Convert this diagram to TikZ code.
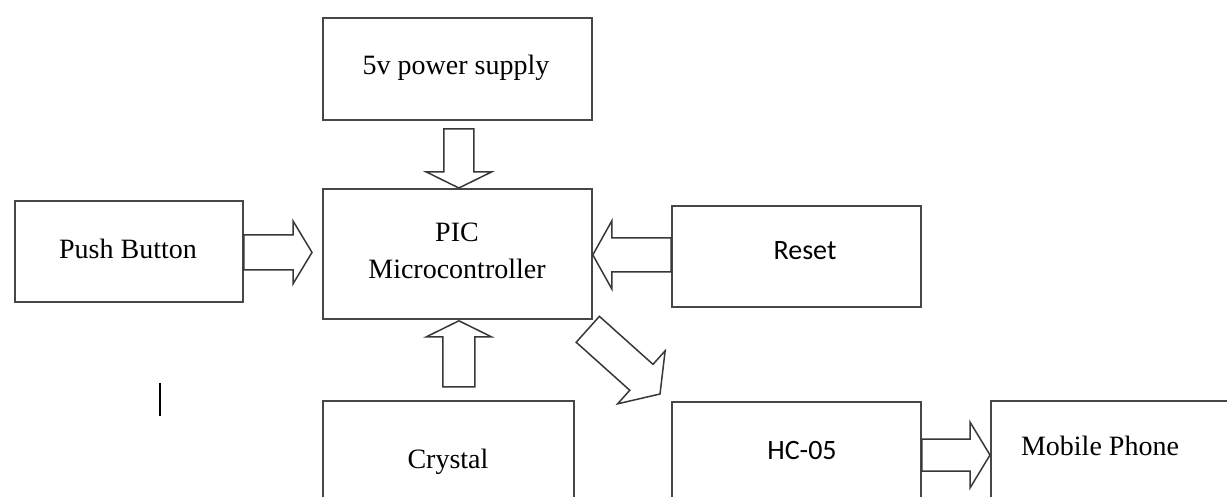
\documentclass[tikz,border=0pt]{standalone}
\usepackage{fontspec}
\setmainfont{Liberation Serif}
\newfontfamily\calibrifont{Carlito}
\usetikzlibrary{calc}
\tikzset{
  box/.style={draw=black!72, line width=0.9pt, rectangle, inner sep=0pt, anchor=north west},
  lbl/.style={inner sep=0pt, align=center, font=\fontsize{14}{18.5}\selectfont},
  sanslbl/.style={inner sep=0pt, align=center, font=\calibrifont\fontsize{14}{18.5}\selectfont},
  blk/.style={draw=black!78, line width=0.75pt, line join=miter, fill=white},
}
% block arrow: from, to, shaft half width, head half width, head length
\newcommand{\blockarrow}[5]{%
  \coordinate (bah) at ($(#2)!#5!(#1)$);
  \draw[blk] ($(#1)!#3!90:(#2)$) -- ($(bah)!#3!90:(#2)$) -- ($(bah)!#4!90:(#2)$)
    -- (#2) -- ($(bah)!#4!-90:(#2)$) -- ($(bah)!#3!-90:(#2)$) -- ($(#1)!#3!-90:(#2)$) -- cycle;
}
\begin{document}
\begin{tikzpicture}[x=0.5pt,y=-0.5pt]
\useasboundingbox (0,0) rectangle (1227,497);
\clip (0,0) rectangle (1227,497);
\fill[white] (0,0) rectangle (1227,497);

% boxes
\node[box, minimum width=134.5pt, minimum height=51pt] (power) at (322,17) {};
\node[box, minimum width=134.5pt, minimum height=65pt] (pic) at (322,188) {};
\node[box, minimum width=114pt, minimum height=50.5pt] (push) at (14,200) {};
\node[box, minimum width=124.5pt, minimum height=50.5pt] (reset) at (671,205) {};
\node[box, minimum width=125.5pt, minimum height=60pt] (crystal) at (322,400) {};
\node[box, minimum width=124.5pt, minimum height=60pt] (hc) at (671,401) {};
\node[box, minimum width=125pt, minimum height=60pt] (mobile) at (990,400) {};

% texts
\node[lbl] (tpower) at (456,68) {5v power supply};
\node[lbl] (tpic) at (457,251) {PIC\\Microcontroller};
\node[lbl] (tpush) at (128,249) {Push Button};
\node[sanslbl] (treset) at (805,251) {Reset};
\node[lbl] (tcrystal) at (448,462) {Crystal};
\node[sanslbl] (thc) at (802,451) {HC-05};
\node[lbl] (tmobile) at (1100,446) {Mobile Phone};

% arrow end points
\coordinate (a1e) at ($(pic.north)+(1.5,0)$);
\coordinate (a1s) at ($(a1e |- power.south)+(0,8)$);
\coordinate (a2e) at ($(pic.south)+(1.5,1)$);
\coordinate (a2s) at ($(a2e |- crystal.north)+(0,-13)$);
\coordinate (a3e) at ($(pic.west)+(-10,-1.5)$);
\coordinate (a3s) at (a3e -| push.east);
\coordinate (a4e) at ($(pic.east)+(0,1)$);
\coordinate (a4s) at (a4e -| reset.west);
\coordinate (a5s) at ($(pic.south east)+(-5,9.5)$);
\coordinate (a5e) at ($(hc.north west)+(-11,-7)$);
\coordinate (a6e) at ($(mobile.north west)+(0,55)$);
\coordinate (a6s) at (a6e -| hc.east);

\blockarrow{a1s}{a1e}{7.5pt}{16.25pt}{8pt}
\blockarrow{a2s}{a2e}{8pt}{16.25pt}{8pt}
\blockarrow{a3s}{a3e}{8.75pt}{15.75pt}{9.5pt}
\blockarrow{a4s}{a4e}{8.5pt}{17pt}{9.5pt}
\blockarrow{a5s}{a5e}{8.7pt}{17.8pt}{12.5pt}
\blockarrow{a6s}{a6e}{8pt}{16.5pt}{10pt}

% stray cursor mark
\draw[black, line width=0.8pt] (160,383) -- (160,416);
\end{tikzpicture}
\end{document}
